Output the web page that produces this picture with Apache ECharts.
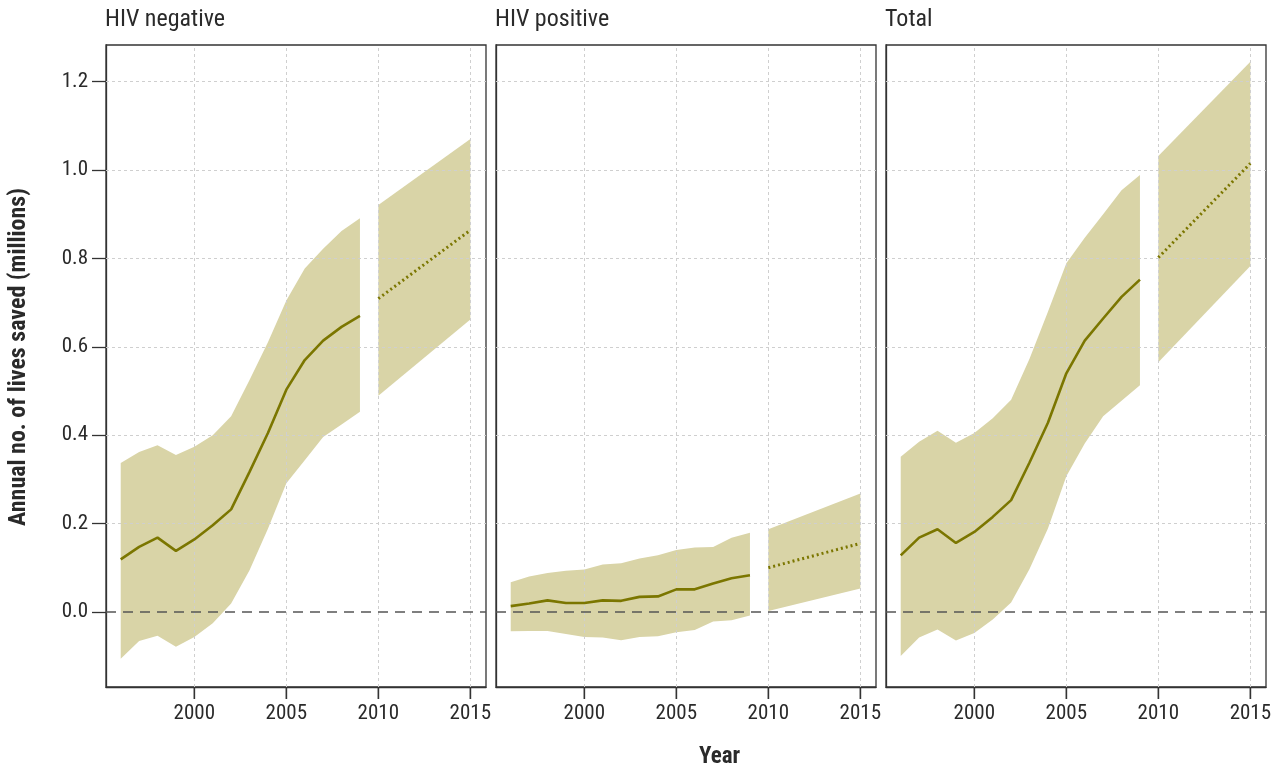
<!DOCTYPE html>
<html>
<head>
<meta charset="utf-8">
<script src="https://cdn.jsdelivr.net/npm/echarts@6/dist/echarts.min.js"></script>
<style>
html,body{margin:0;padding:0;background:#fff;}
#c{width:1283px;height:769px;}
</style>
</head>
<body>
<div id="c"></div>
<script>
// ---- data ----
const panelTitles = ['HIV negative', 'HIV positive', 'Total'];
const years = [1996, 1997, 1998, 1999, 2000, 2001, 2002, 2003, 2004, 2005, 2006, 2007, 2008, 2009];
const projYears = [2010, 2015];
const xTicks = [2000, 2005, 2010, 2015];
const yTicks = [0.0, 0.2, 0.4, 0.6, 0.8, 1.0, 1.2];

const negMid = [0.119, 0.147, 0.168, 0.138, 0.164, 0.196, 0.232, 0.317, 0.405, 0.503, 0.570, 0.614, 0.645, 0.670];
const negUp  = [0.337, 0.362, 0.377, 0.355, 0.374, 0.400, 0.443, 0.525, 0.610, 0.705, 0.777, 0.822, 0.862, 0.891];
const negLo  = [-0.106, -0.066, -0.054, -0.079, -0.057, -0.026, 0.019, 0.094, 0.188, 0.291, 0.343, 0.396, 0.424, 0.453];
const negProjMid = [0.709, 0.864];
const negProjUp  = [0.921, 1.070];
const negProjLo  = [0.489, 0.662];

const posMid = [0.013, 0.019, 0.026, 0.020, 0.020, 0.026, 0.025, 0.034, 0.035, 0.051, 0.051, 0.064, 0.076, 0.083];
const posUp  = [0.067, 0.080, 0.088, 0.093, 0.096, 0.107, 0.110, 0.121, 0.128, 0.140, 0.146, 0.147, 0.168, 0.179];
const posLo  = [-0.044, -0.043, -0.043, -0.050, -0.057, -0.058, -0.064, -0.057, -0.055, -0.046, -0.041, -0.022, -0.019, -0.008];
const posProjMid = [0.100, 0.155];
const posProjUp  = [0.187, 0.268];
const posProjLo  = [0.002, 0.053];

const totMid = [0.128, 0.168, 0.187, 0.156, 0.181, 0.215, 0.253, 0.338, 0.428, 0.540, 0.614, 0.664, 0.713, 0.752];
const totUp  = [0.351, 0.385, 0.410, 0.383, 0.405, 0.438, 0.480, 0.573, 0.679, 0.789, 0.847, 0.900, 0.954, 0.989];
const totLo  = [-0.100, -0.058, -0.040, -0.065, -0.048, -0.017, 0.021, 0.097, 0.189, 0.307, 0.381, 0.443, 0.478, 0.513];
const totProjMid = [0.802, 1.015];
const totProjUp  = [1.032, 1.245];
const totProjLo  = [0.565, 0.783];

// ---- styling ----
const FONT = "'Liberation Sans Narrow', 'Roboto Condensed', 'Arial Narrow', Roboto, sans-serif";
const BAND = '#d9d4a7';
const LINE = '#7b7600';
const TEXT = '#2a2a2a';
const AXIS = '#333';
const TICK_LEN = 12;
const X_MIN = 1995.2, X_MAX = 2015.85, Y_MIN = -0.17, Y_MAX = 1.283;

const panels = [
  {mid: negMid, up: negUp, lo: negLo, pMid: negProjMid, pUp: negProjUp, pLo: negProjLo},
  {mid: posMid, up: posUp, lo: posLo, pMid: posProjMid, pUp: posProjUp, pLo: posProjLo},
  {mid: totMid, up: totUp, lo: totLo, pMid: totProjMid, pUp: totProjUp, pLo: totProjLo}
];
const lefts = [106, 496, 886];

const grids = [], xAxes = [], yAxes = [], series = [], titles = [];

function bandSeries(idx, xs, up, lo) {
  return {
    type: 'custom', xAxisIndex: idx, yAxisIndex: idx, z: 2, silent: true,
    data: [0],
    renderItem: function (params, api) {
      const pts = [];
      for (let k = 0; k < xs.length; k++) pts.push(api.coord([xs[k], up[k]]));
      for (let k = xs.length - 1; k >= 0; k--) pts.push(api.coord([xs[k], lo[k]]));
      return {type: 'polygon', shape: {points: pts}, style: {fill: BAND}};
    }
  };
}

panels.forEach((p, i) => {
  grids.push({left: lefts[i], top: 45, width: 380, height: 642, show: true,
    borderColor: AXIS, borderWidth: 1.3, backgroundColor: 'transparent'});
  xAxes.push({
    type: 'value', gridIndex: i, min: X_MIN, max: X_MAX, position: 'bottom',
    axisLine: {show: true, onZero: false, lineStyle: {color: AXIS, width: 1.3}},
    splitLine: {show: false},
    axisTick: {show: true, length: TICK_LEN, customValues: xTicks, lineStyle: {color: AXIS, width: 1.3}},
    // each label carries its own tick mark (a thin box above the year text)
    axisLabel: {show: true, customValues: xTicks, margin: 0, color: TEXT, fontFamily: FONT,
      formatter: v => '{t|}\n{v|' + v + '}',
      rich: {
        t: {width: 1.4, height: TICK_LEN, lineHeight: TICK_LEN, backgroundColor: AXIS},
        v: {fontSize: 21, lineHeight: 23, padding: [6, 0, 0, 0], color: TEXT, fontFamily: FONT}
      }}
  });
  yAxes.push({
    type: 'value', gridIndex: i, min: Y_MIN, max: Y_MAX, position: 'left',
    axisLine: {show: true, onZero: false, lineStyle: {color: AXIS, width: 1.3}},
    splitLine: {show: false},
    axisTick: {show: i === 0, length: 14, customValues: yTicks, lineStyle: {color: AXIS, width: 1.3}},
    axisLabel: {show: i === 0, customValues: yTicks, fontSize: 21, color: TEXT, fontFamily: FONT, margin: 18,
      formatter: v => v.toFixed(1)}
  });
  titles.push({text: panelTitles[i], left: lefts[i] - 1, top: 8, padding: 0,
    textStyle: {fontSize: 24, fontWeight: 'normal', color: TEXT, fontFamily: FONT}});

  // grid lines (behind bands)
  const gl = [];
  xTicks.forEach(v => gl.push({xAxis: v}));
  yTicks.filter(v => v !== 0).forEach(v => gl.push({yAxis: v}));
  series.push({
    type: 'line', xAxisIndex: i, yAxisIndex: i, z: 1, silent: true, symbol: 'none',
    data: years.map((y, k) => [y, p.mid[k]]), lineStyle: {opacity: 0},
    markLine: {silent: true, symbol: ['none', 'none'], label: {show: false}, animation: false,
      lineStyle: {color: '#cfcfcf', type: [3, 3], width: 1}, data: gl}
  });
  series.push(bandSeries(i, years, p.up, p.lo));
  series.push(bandSeries(i, projYears, p.pUp, p.pLo));
  // zero line
  series.push({
    type: 'line', xAxisIndex: i, yAxisIndex: i, z: 5, silent: true, symbol: 'none',
    data: years.map((y, k) => [y, p.mid[k]]), lineStyle: {opacity: 0},
    markLine: {silent: true, symbol: ['none', 'none'], label: {show: false}, animation: false,
      lineStyle: {color: '#555', type: [10, 7], width: 1.6}, data: [{yAxis: 0}]}
  });
  series.push({
    type: 'line', xAxisIndex: i, yAxisIndex: i, z: 6, silent: true, symbol: 'none',
    data: years.map((y, k) => [y, p.mid[k]]),
    lineStyle: {color: LINE, width: 2.6}
  });
  series.push({
    type: 'line', xAxisIndex: i, yAxisIndex: i, z: 6, silent: true, symbol: 'none',
    data: projYears.map((y, k) => [y, p.pMid[k]]),
    lineStyle: {color: LINE, width: 3, type: [2, 3]}
  });
});

const chart = echarts.init(document.getElementById('c'), null, {renderer: 'canvas'});
chart.setOption({
  animation: false,
  backgroundColor: '#fff',
  title: titles,
  grid: grids,
  xAxis: xAxes,
  yAxis: yAxes,
  series: series,
  graphic: [
    {type: 'text', left: 699, top: 746,
      style: {text: 'Year', font: "bold 23px " + FONT, fill: TEXT}},
    {type: 'text', x: 7, y: 357, rotation: Math.PI / 2,
      style: {text: 'Annual no. of lives saved (millions)', font: "bold 24px " + FONT, fill: TEXT,
        align: 'center', verticalAlign: 'top'}}
  ]
});
</script>
</body>
</html>
